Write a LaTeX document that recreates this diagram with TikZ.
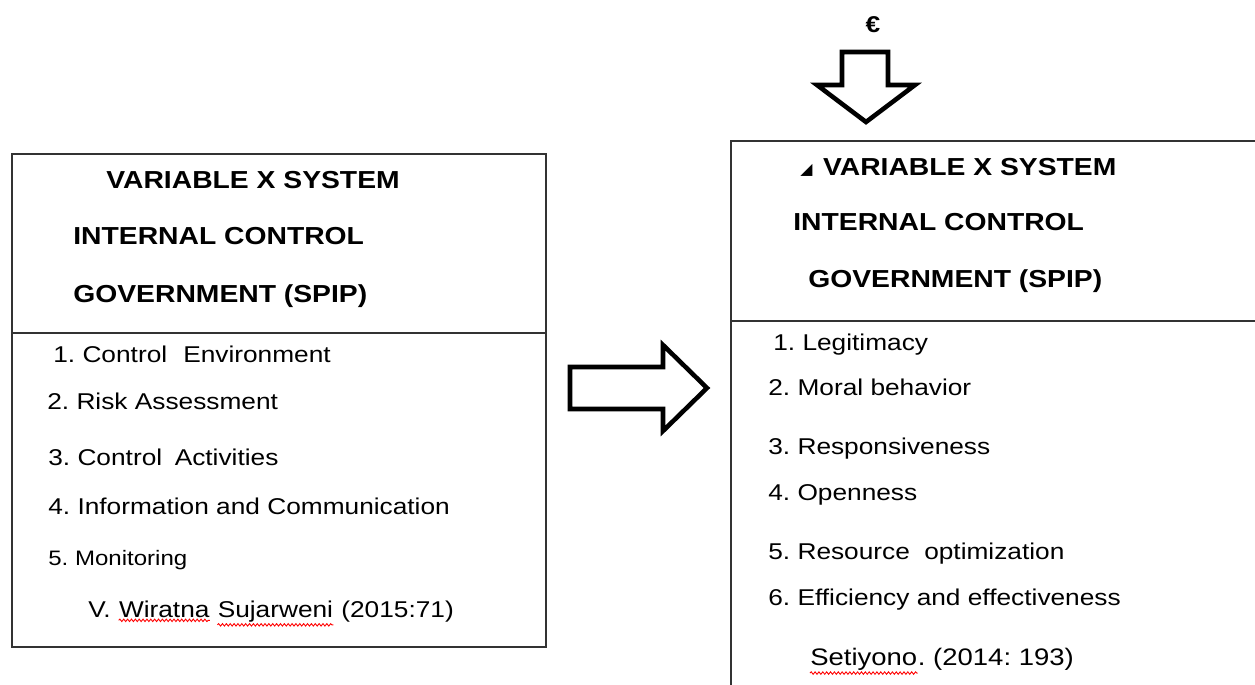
\documentclass[tikz,border=0pt]{standalone}
\usepackage{fontspec}
\setmainfont[FakeStretch=1.15]{Liberation Sans}
\newfontfamily\symfont{DejaVu Sans}
\usetikzlibrary{positioning,decorations.pathmorphing}
\frenchspacing

\begin{document}
\begin{tikzpicture}[x=0.02cm, y=-0.02cm,
    heading/.style={anchor=base west, inner sep=0pt, font=\fontsize{14}{16}\selectfont\bfseries},
    item/.style={anchor=base west, inner sep=0pt, font=\fontsize{13}{15}\selectfont},
    frame/.style={draw=black!80, line width=1.2pt},
    bigarrow/.style={draw, line width=2.6pt, line join=miter, fill=white},
    spell/.style={draw=red, line width=0.5pt, decorate, decoration={snake, amplitude=0.7pt, segment length=2.2pt}}]

    \useasboundingbox (0,0) rectangle (1255,685);

    % left box
    \draw[frame] (12,154) rectangle (546,647);
    \draw[frame] (12,333) -- (546,333);
    \node[heading] (lvar) at (106,189) {VARIABLE X SYSTEM};
    \node[heading] (lint) at (73,245) {INTERNAL CONTROL};
    \node[heading] (lgov) at (73,303) {GOVERNMENT (SPIP)};
    \node[item] (lenv) at (53,363) {1. Control\hspace{5pt} Environment};
    \node[item] (lrisk) at (47,410) {2. Risk Assessment};
    \node[item] (lact) at (48,466) {3. Control\hspace{3pt} Activities};
    \node[item] (linfo) at (48,515) {4. Information and Communication};
    \node[item, font=\fontsize{11.9}{14}\selectfont] (lmon) at (48,566) {5. Monitoring};
    \node[item] (lsrc) at (88,618) {V.};
    \node[item] (lwir) at ([xshift=4.3pt]lsrc.base east) {Wiratna};
    \node[item] (lsuj) at ([xshift=4.3pt]lwir.base east) {Sujarweni};
    \node[item] (lyear) at ([xshift=4.3pt]lsuj.base east) {(2015:71)};
    \draw[spell] ([yshift=-1pt]lwir.south west) -- ([yshift=-1pt]lwir.south east);
    \draw[spell] ([yshift=-1pt]lsuj.south west) -- ([yshift=-1pt]lsuj.south east);

    % arrow between the boxes
    \draw[bigarrow] (570,367) -- (663,367) -- (663,345) -- (707,388) -- (663,431) -- (663,409) -- (570,409) -- cycle;

    % right box
    \draw[frame] (1255,141) -- (731,141) -- (731,685);
    \draw[frame] (731,321) -- (1255,321);
    \node[heading] (rvar) at (800,176) {\raisebox{1pt}{\symfont\fontsize{9}{10}\selectfont ◢}\hspace{6pt}VARIABLE X SYSTEM};
    \node[heading] (rint) at (793,231) {INTERNAL CONTROL};
    \node[heading] (rgov) at (808,288) {GOVERNMENT (SPIP)};
    \node[item] (rleg) at (773,351) {1. Legitimacy};
    \node[item] (rmor) at (768,396) {2. Moral behavior};
    \node[item] (rres) at (768,455) {3. Responsiveness};
    \node[item] (ropen) at (768,501) {4. Openness};
    \node[item] (ropt) at (768,560) {5. Resource\hspace{4pt} optimization};
    \node[item] (reff) at (768,606) {6. Efficiency and effectiveness};
    \node[item, font=\fontsize{13.6}{15}\selectfont] (rset) at (810,666) {Setiyono};
    \node[item, font=\fontsize{13.6}{15}\selectfont] (rsrc) at (rset.base east) {. (2014: 193)};
    \draw[spell] ([yshift=-1pt]rset.south west) -- ([yshift=-1pt]rset.south east);

    % arrow from above
    \node[font=\fontsize{13}{15}\selectfont\bfseries, inner sep=0pt] (euro) at (873,25) {€};
    \draw[bigarrow] (842,52) -- (888,52) -- (888,85) -- (915,85) -- (866,122) -- (817,85) -- (842,85) -- cycle;

\end{tikzpicture}
\end{document}
